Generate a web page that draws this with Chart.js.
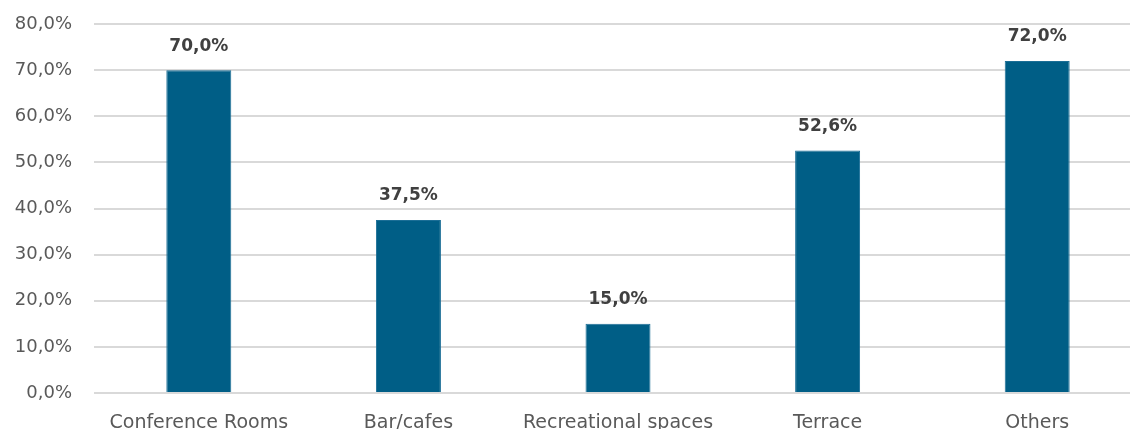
<!DOCTYPE html>
<html>
<head>
<meta charset="utf-8">
<script src="https://cdn.jsdelivr.net/npm/chart.js@4"></script>
<style>
  html, body { margin: 0; padding: 0; background: #fff; overflow: hidden; }
  #wrap { position: relative; width: 1142px; height: 450px; }
</style>
</head>
<body>
<div id="wrap"><canvas id="chart"></canvas></div>
<script>
// Share of venues offering each space type
const categories = ['Conference Rooms', 'Bar/cafes', 'Recreational spaces', 'Terrace', 'Others'];
const values = [70.0, 37.5, 15.0, 52.6, 72.0];
const yTicks = [0, 10, 20, 30, 40, 50, 60, 70, 80];

const FONT = '"DejaVu Sans", sans-serif';

function pct(v) {
    return v.toFixed(1).replace('.', ',') + '%';
}

// draws the bold value above each bar
const valueLabels = {
    id: 'valueLabels',
    afterDatasetsDraw(chart) {
        const ctx = chart.ctx;
        const meta = chart.getDatasetMeta(0);
        ctx.save();
        ctx.font = 'bold 17px ' + FONT;
        ctx.fillStyle = '#404040';
        ctx.textAlign = 'center';
        ctx.textBaseline = 'middle';
        meta.data.forEach((bar, i) => {
            ctx.fillText(pct(values[i]), bar.x, bar.y - 24);
        });
        ctx.restore();
    }
};

new Chart(document.getElementById('chart'), {
    type: 'bar',
    data: {
        labels: categories,
        datasets: [{
            data: values,
            backgroundColor: '#005E86',
            borderColor: '#1B6E96',
            borderWidth: 1,
            categoryPercentage: 1,
            barPercentage: 0.31
        }]
    },
    options: {
        responsive: true,
        maintainAspectRatio: false,
        animation: false,
        layout: { padding: { top: 24, right: 0, left: 0, bottom: 0 } },
        plugins: {
            legend: { display: false },
            tooltip: { enabled: false }
        },
        scales: {
            y: {
                min: 0,
                max: 80,
                afterFit(scale) { scale.width = 94; },
                afterBuildTicks(scale) { scale.ticks = yTicks.map(v => ({ value: v })); },
                border: { display: false },
                grid: { color: '#D9D9D9', lineWidth: 2, tickLength: 22, tickColor: 'rgba(0,0,0,0)' },
                ticks: {
                    padding: 0,
                    color: '#595959',
                    font: { family: FONT, size: 18 },
                    callback: v => pct(v)
                }
            },
            x: {
                afterFit(scale) { scale.height = 57; },
                border: { display: false },
                grid: { display: false },
                ticks: {
                    padding: 11,
                    color: '#595959',
                    font: { family: FONT, size: 19 }
                }
            }
        }
    },
    plugins: [valueLabels]
});
</script>
</body>
</html>
